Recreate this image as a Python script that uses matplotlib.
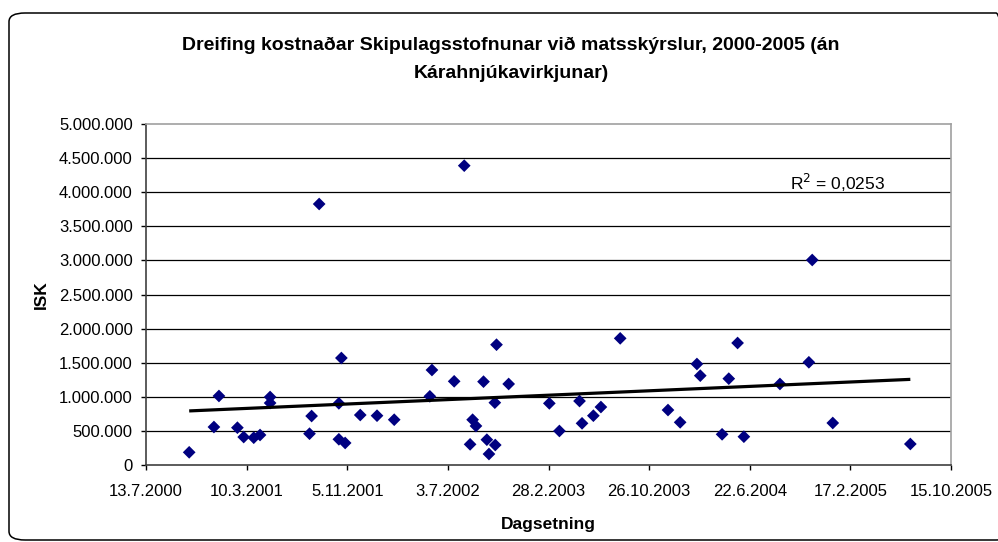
import matplotlib
matplotlib.use("Agg")
import matplotlib.pyplot as plt
import matplotlib.dates as mdates
from matplotlib.patches import FancyBboxPatch
import numpy as np

plt.rcParams['font.family'] = ['Liberation Sans', 'DejaVu Sans']

title = "Dreifing kostnaðar Skipulagsstofnunar við matsskýrslur, 2000-2005 (án\nKárahnjúkavirkjunar)"
x_label = "Dagsetning"
y_label = "ISK"
r2_text = "R$^2$ = 0,0253"

dates = [
    "2000-10-24", "2000-12-22", "2001-01-03", "2001-02-16", "2001-03-03",
    "2001-03-27", "2001-04-11", "2001-05-05", "2001-05-05", "2001-08-30",
    "2001-08-07", "2001-08-12", "2001-10-22", "2001-10-16", "2001-10-16",
    "2001-10-31", "2001-12-06", "2002-01-15", "2002-02-25", "2002-05-26",
    "2002-05-21", "2002-07-18", "2002-08-11", "2002-08-31", "2002-09-08",
    "2002-08-25", "2002-09-26", "2002-10-04", "2002-10-09", "2002-10-23",
    "2002-10-24", "2002-10-27", "2002-11-25", "2003-03-02", "2003-03-26",
    "2003-05-13", "2003-05-19", "2003-06-15", "2003-07-03", "2003-08-18",
    "2003-12-10", "2004-01-08", "2004-02-17", "2004-02-25", "2004-04-17",
    "2004-05-03", "2004-05-24", "2004-06-08", "2004-09-02", "2004-11-10",
    "2004-11-18", "2005-01-06", "2005-07-10",
]
costs = [
    186000, 557000, 1012000, 547000, 410000,
    400000, 440000, 997000, 909000, 3827000,
    459000, 718000, 1569000, 904000, 377000,
    323000, 733000, 723000, 664000, 1393000,
    1007000, 1227000, 4389000, 664000, 572000,
    303000, 1222000, 371000, 161000, 914000,
    293000, 1764000, 1188000, 904000, 499000,
    938000, 611000, 723000, 850000, 1857000,
    806000, 626000, 1481000, 1310000, 450000,
    1266000, 1789000, 415000, 1188000, 1506000,
    3006000, 616000, 308000,
]
tick_dates = ["2000-07-13", "2001-03-10", "2001-11-05", "2002-07-03", "2003-02-28",
              "2003-10-26", "2004-06-22", "2005-02-17", "2005-10-15"]
tick_labels = ["13.7.2000", "10.3.2001", "5.11.2001", "3.7.2002", "28.2.2003",
               "26.10.2003", "22.6.2004", "17.2.2005", "15.10.2005"]
y_ticks = [0, 500000, 1000000, 1500000, 2000000, 2500000, 3000000, 3500000, 4000000, 4500000, 5000000]
y_tick_labels = ["0", "500.000", "1.000.000", "1.500.000", "2.000.000", "2.500.000",
                 "3.000.000", "3.500.000", "4.000.000", "4.500.000", "5.000.000"]

W, H = 998, 542
fig = plt.figure(figsize=(W / 100, H / 100), dpi=100)
fig.patch.set_facecolor("white")

# rounded chart border
border = FancyBboxPatch((9 / W, (H - 540) / H), (1012 - 9) / W, (540 - 13) / H,
                        boxstyle="round,pad=0,rounding_size=0.016",
                        transform=fig.transFigure, facecolor="none",
                        edgecolor="black", linewidth=1.1, clip_on=False)
fig.patches.append(border)

ax = fig.add_axes([146 / W, 1 - 465 / H, (951 - 146) / W, (465 - 124) / H])

xd = mdates.datestr2num(dates)
yv = np.array(costs, dtype=float)
tk = mdates.datestr2num(tick_dates)

for yt in y_ticks[1:-1]:
    ax.axhline(yt, color="black", linewidth=0.9, zorder=1)

ax.scatter(xd, yv, marker="D", s=42, color="#000080", edgecolors="none", zorder=3)

coef = np.polyfit(xd, yv, 1)
xl = np.array([xd.min(), xd.max()])
ax.plot(xl, np.polyval(coef, xl), color="black", linewidth=2.3, zorder=4,
        solid_capstyle="butt")

ax.set_xlim(tk[0], tk[-1])
ax.set_ylim(0, 5000000)
ax.set_xticks(tk)
ax.set_xticklabels(tick_labels)
ax.set_yticks(y_ticks)
ax.set_yticklabels(y_tick_labels)
ax.tick_params(axis="both", direction="out", length=3.6, width=1, labelsize=12, colors="black")
ax.tick_params(axis="x", pad=10)
ax.tick_params(axis="y", pad=6)

ax.spines["left"].set_color("#404040")
ax.spines["bottom"].set_color("#404040")
ax.spines["left"].set_linewidth(1.2)
ax.spines["bottom"].set_linewidth(1.2)
ax.spines["top"].set_color("#a0a0a0")
ax.spines["right"].set_color("#a0a0a0")
ax.spines["top"].set_linewidth(1.2)
ax.spines["right"].set_linewidth(1.2)

ax.set_xlabel(x_label, fontsize=12.5, fontweight="bold", labelpad=13)
ax.set_ylabel(y_label, fontsize=12.5, fontweight="bold", labelpad=7)

ax.text(0.8, 0.827, r2_text, transform=ax.transAxes, fontsize=12.5,
        ha="left", va="center")

fig.text(511 / W, 1 - 59.5 / H, title, ha="center", va="center", fontsize=14,
         fontweight="bold", linespacing=1.85)

fig.savefig("out.png", dpi=100)
